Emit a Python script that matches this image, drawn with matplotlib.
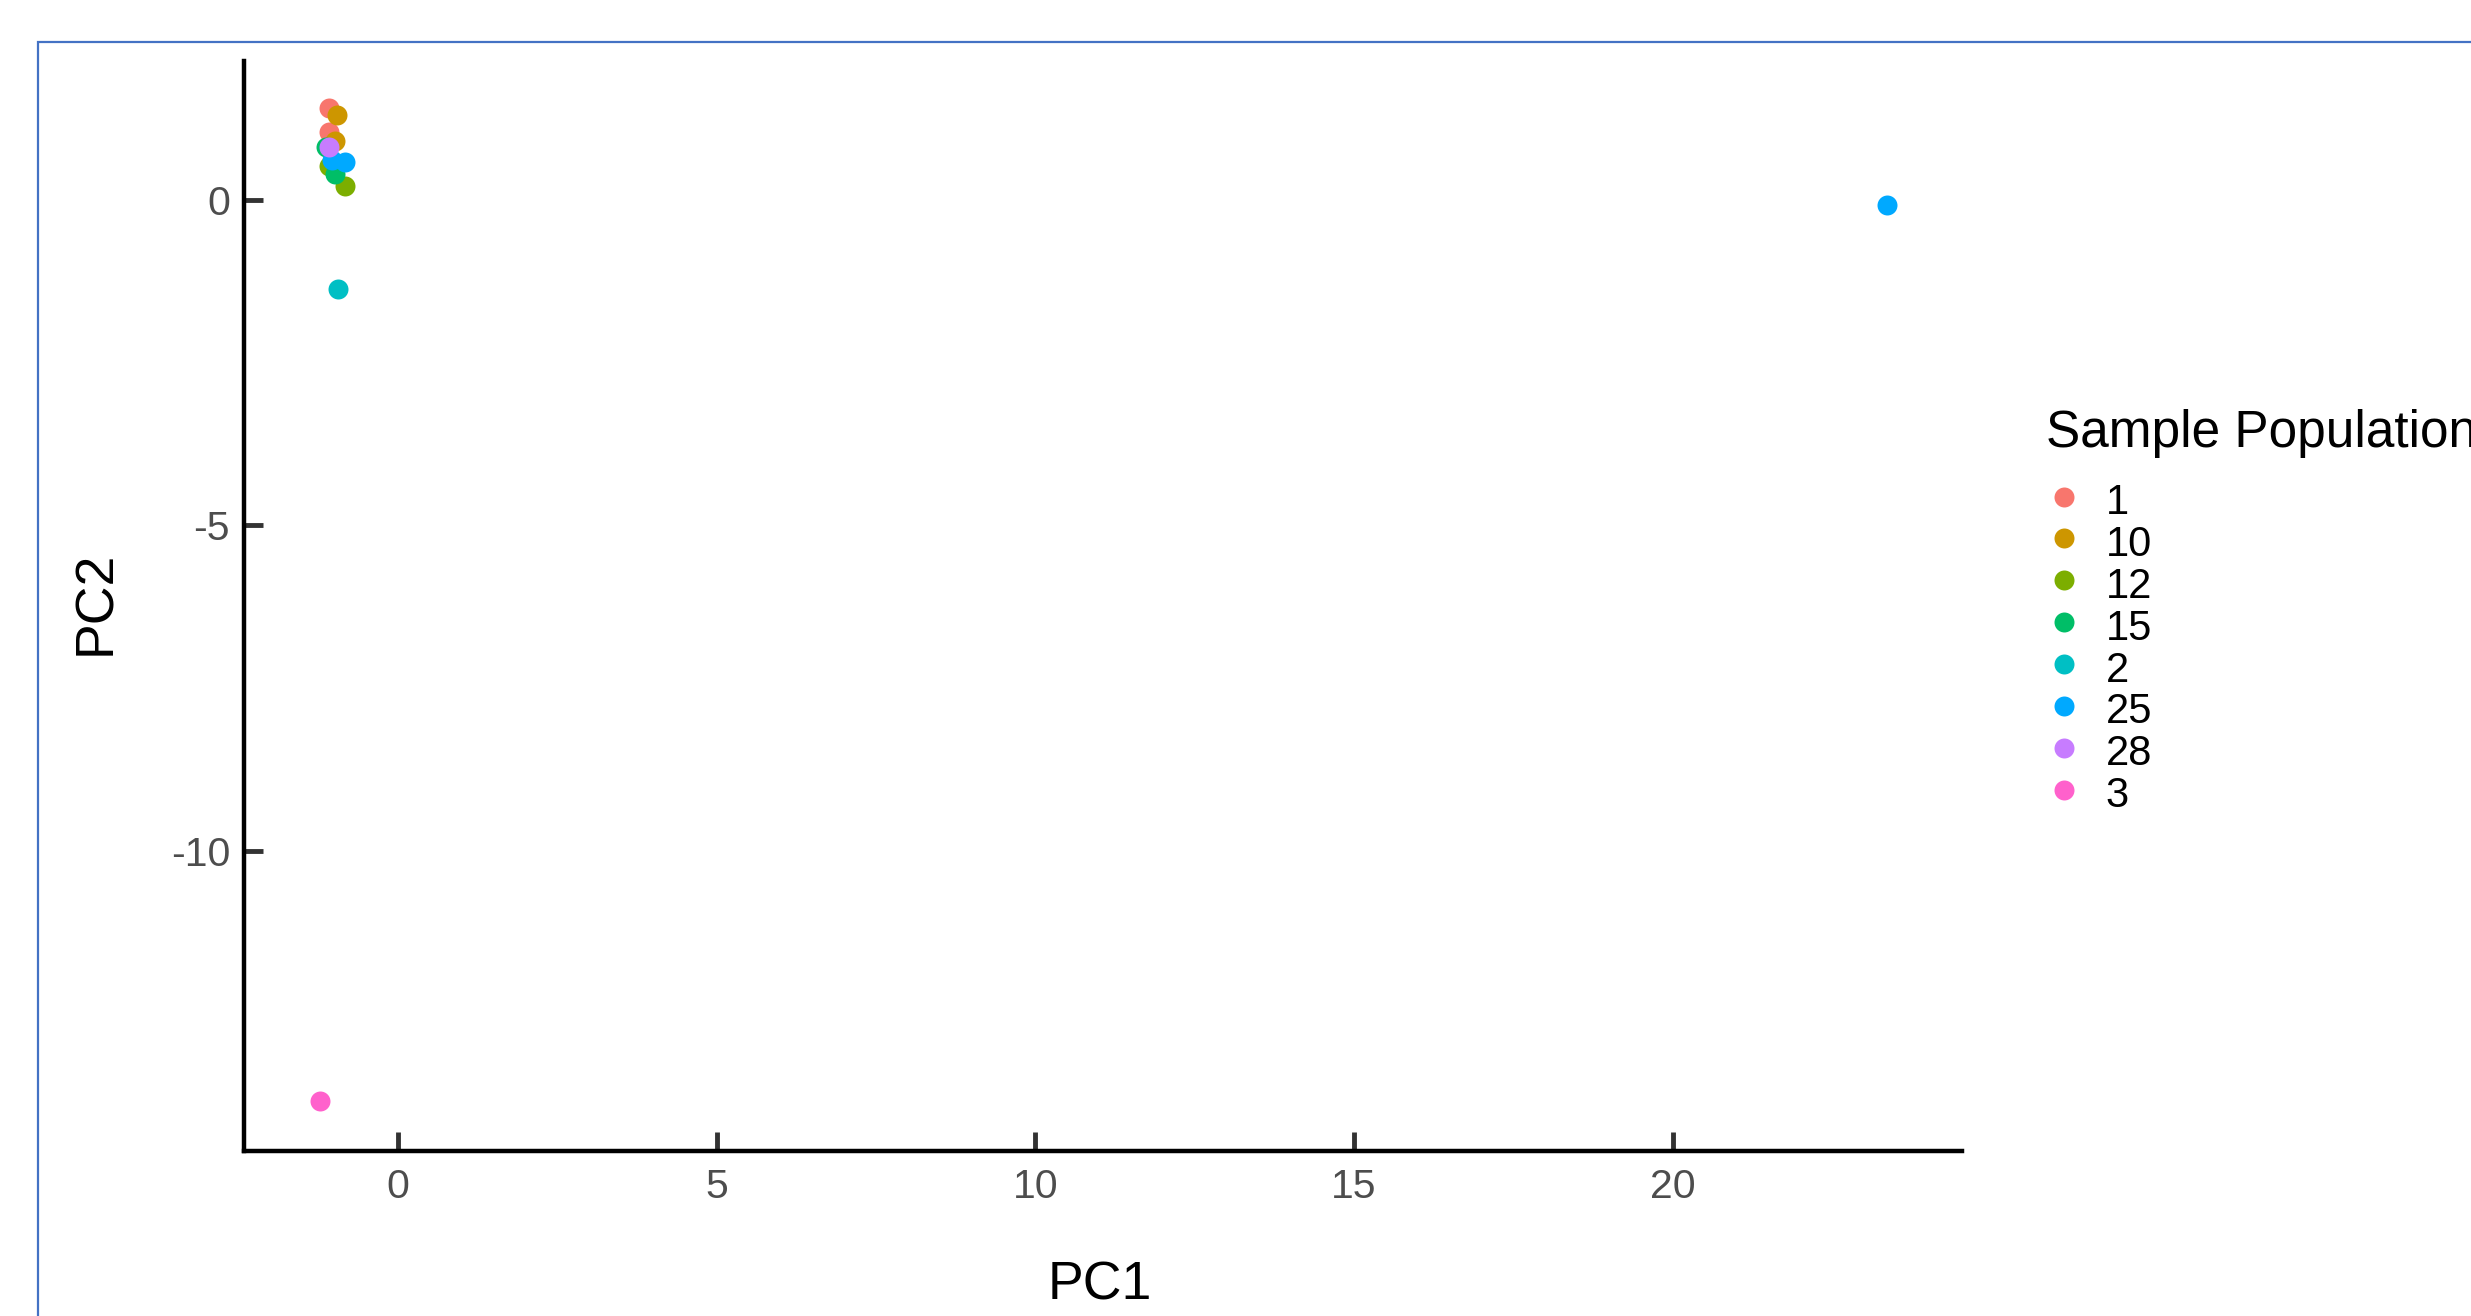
"""PCA scatter of sample populations (PC1 vs PC2)."""
import matplotlib
matplotlib.use("Agg")
import matplotlib.pyplot as plt
from matplotlib.patches import Rectangle

plt.rcParams["font.family"] = ["Liberation Sans", "DejaVu Sans"]
plt.rcParams["axes.unicode_minus"] = False

W, H, DPI = 2471, 1316, 100

# population labels (factor order) and ggplot hue colours
populations = ["1", "10", "12", "15", "2", "25", "28", "3"]
colors = ["#F8766D", "#CD9600", "#7CAE00", "#00BE67",
          "#00BFC4", "#00A9FF", "#C77CFF", "#FF61CC"]

# principal component scores per population
pc1 = {
    "1": [-1.08, -1.09],
    "10": [-0.96, -0.99],
    "12": [-0.83, -1.08],
    "15": [-0.99, -1.13],
    "2": [-0.94],
    "25": [-1.04, -0.83, 23.36],
    "28": [-1.09],
    "3": [-1.22],
}
pc2 = {
    "1": [1.41, 1.04],
    "10": [1.31, 0.91],
    "12": [0.22, 0.52],
    "15": [0.40, 0.81],
    "2": [-1.37],
    "25": [0.61, 0.59, -0.08],
    "28": [0.82],
    "3": [-13.85],
}

fig = plt.figure(figsize=(W / DPI, H / DPI), dpi=DPI)
ax = fig.add_axes([243.5 / W, 1 - 1150.7 / H, (1962 - 243.5) / W, 1089.7 / H])

for pop, col in zip(populations, colors):
    ax.scatter(pc1[pop], pc2[pop], s=207, color=col, linewidths=0, label=pop)

ax.set_xlim(-2.424, 24.54)
ax.set_ylim(-14.61, 2.136)
ax.set_xticks([0, 5, 10, 15, 20])
ax.set_yticks([-10, -5, 0])

for side in ["top", "right"]:
    ax.spines[side].set_visible(False)
for side in ["left", "bottom"]:
    ax.spines[side].set_linewidth(3.2)
    ax.spines[side].set_color("black")
    ax.spines[side].set_capstyle("projecting")

ax.tick_params(axis="both", direction="in", length=13.5, width=3.5,
               color="#333333", labelcolor="#4D4D4D", labelsize=29.5)
ax.tick_params(axis="x", pad=12.7)
ax.tick_params(axis="y", pad=9.7)

ax.set_xlabel("PC1", fontsize=38.5, color="black", va="baseline")
ax.xaxis.set_label_coords(0.498, -0.137)
ax.set_ylabel("PC2", fontsize=38.5, color="black")
ax.yaxis.label.set(ha="center", va="center")
ax.yaxis.set_label_coords(-0.0858, 0.5026)

# legend
fig.text(2046 / W, 1 - 447 / H, "Sample Population", fontsize=37,
         ha="left", va="baseline")
fig.legend(loc="upper left", bbox_to_anchor=(2043.2 / W, 1 - 483 / H),
           frameon=False, borderpad=0, borderaxespad=0, fontsize=30,
           handlelength=1.0, handletextpad=0.5, labelspacing=0.045,
           scatterpoints=1, scatteryoffsets=[0.6])

# outer frame
fig.add_artist(Rectangle((37.7 / W, -0.05), 1.1, 1 - 41.7 / H + 0.05,
                         transform=fig.transFigure, fill=False,
                         edgecolor="#4472C4", linewidth=1.6))

fig.savefig("out.png", dpi=DPI)
